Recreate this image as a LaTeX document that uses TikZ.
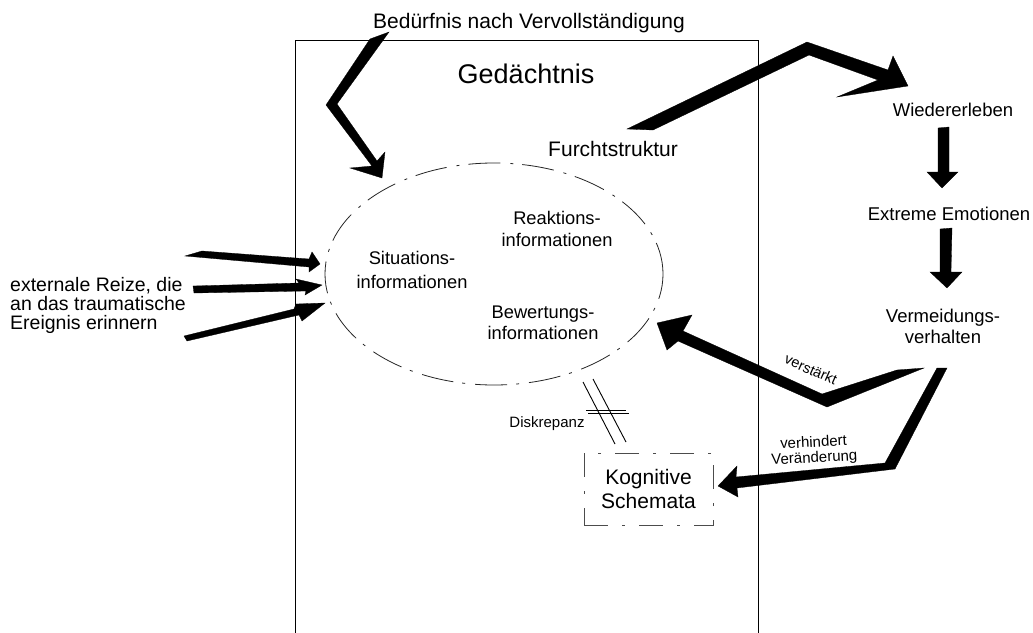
\documentclass[tikz,border=0pt]{standalone}
\usepackage{fontspec}
\setmainfont{Liberation Sans}
\usetikzlibrary{shapes.geometric}
\begin{document}
\begin{tikzpicture}[x=1pt,y=-1pt,
  txt/.style={inner sep=0pt, align=center},
  fat/.style={fill=black, draw=black, line width=0.3pt, line join=miter},
  thin/.style={draw=black, line width=0.9pt},
  elldash/.style={dash pattern=on 32pt off 9pt on 3pt off 10pt},
  boxdash/.style={dash pattern=on 24pt off 14pt on 3pt off 14pt}]
\useasboundingbox (0,0) rectangle (1033,632);
\fill[white] (0,0) rectangle (1033,632);

% memory frame
\draw[thin] (295,640) -- (295,40) -- (758.5,40) -- (758.5,640);

% texts
\node[txt, font=\fontsize{27}{30}\selectfont] (ged) at (526,74) {Gedächtnis};
\node[txt, font=\fontsize{21}{24}\selectfont] (bed) at (529,23) {Bedürfnis nach Vervollständigung};
\node[txt, font=\fontsize{21}{24}\selectfont] (furcht) at (613,149) {Furchtstruktur};

% fear structure ellipse
\node[ellipse, draw=black!85, line width=0.8pt, elldash, minimum width=338pt, minimum height=222pt, inner sep=0pt] (ell) at (494,274) {};
\node[txt, font=\fontsize{18.3}{24}\selectfont] (sit) at (412,270) {Situations-\\informationen};
\node[txt, font=\fontsize{18.3}{22}\selectfont] (rea) at (557,229) {Reaktions-\\informationen};
\node[txt, font=\fontsize{18.3}{20.5}\selectfont] (bew) at (543,323) {Bewertungs-\\informationen};

% right column
\node[txt, font=\fontsize{18.5}{21}\selectfont] (wie) at (953,110) {Wiedererleben};
\node[txt, font=\fontsize{18.5}{21}\selectfont] (ext) at (949,214) {Extreme Emotionen};
\node[txt, font=\fontsize{18.5}{21}\selectfont] (ver) at (943,326) {Vermeidungs-\\verhalten};

% left text
\node[txt, align=left, anchor=west, font=\fontsize{19.5}{19}\selectfont] (ext2) at (10,305) {externale Reize, die\\an das traumatische\\Ereignis erinnern};

% cognitive schemata
\node[txt, draw=black!70, line width=0.8pt, boxdash, minimum width=129pt, minimum height=72pt, font=\fontsize{21}{24}\selectfont] (kog) at (648.5,489) {Kognitive\\Schemata};

% discrepancy
\node[txt, font=\fontsize{15}{17}\selectfont] (dis) at (547,424) {Diskrepanz};
\coordinate (d1a) at (583,382); \coordinate (d1b) at (615,444);
\coordinate (d2a) at (593,379); \coordinate (d2b) at (626,442);
\coordinate (h1a) at (586,410.5); \coordinate (h1b) at (626,410.5);
\coordinate (h2a) at (588,413.5); \coordinate (h2b) at (629,413.5);
\draw[line width=0.9pt] (d1a) -- (d1b);
\draw[line width=0.9pt] (d2a) -- (d2b);
\draw[line width=0.9pt] (h1a) -- (h1b);
\draw[line width=0.9pt] (h2a) -- (h2b);

% arrow labels
\node[txt, rotate=-24, font=\fontsize{14.5}{16}\selectfont] (lv) at (811,369.5) {verstärkt};
\node[txt, rotate=3, font=\fontsize{15}{15.5}\selectfont] (lh) at (814,451) {verhindert\\Veränderung};

% Beduerfnis -> ellipse
\path[fat] (370,39) -- (389,32) -- (337,104) -- (377,161) -- (385,152) -- (382,178)
  -- (350,168) -- (372,166) -- (326,105) -- cycle;

% Furchtstruktur -> Wiedererleben
\path[fat] (627,129) -- (807,42) -- (888,70) -- (893,56) -- (908,86) -- (837,97)
  -- (878,80) -- (809,55) -- (653,130) -- cycle;

% Wiedererleben -> Extreme Emotionen
\path[fat] (938,128) -- (949,127) -- (949,172) -- (958,172) -- (942,188) -- (927,172) -- (938,172) -- cycle;
% Extreme Emotionen -> Vermeidungsverhalten
\path[fat] (940,229) -- (952,228) -- (951,272) -- (962,272) -- (947,288) -- (930,272) -- (940,272) -- cycle;

% verstaerkt
\path[fat] (924,368) -- (897,370) -- (822,394) -- (683,331) -- (692,315) -- (657,323)
  -- (667,350) -- (678,341) -- (827,407) -- cycle;

% verhindert Veraenderung
\path[fat] (937,368) -- (885,463) -- (736,477) -- (737,466) -- (718,486) -- (738,497)
  -- (737,488) -- (895,469) -- (947,368) -- cycle;

% external stimuli arrows
\path[fat] (185,256) -- (202,251) -- (309,259) -- (312,252) -- (320,264) -- (309,272) -- (309,267) -- cycle;
\path[fat] (193,286) -- (299,283) -- (296,279) -- (322,285) -- (305,295) -- (306,291) -- (194,293) -- cycle;
\path[fat] (184,336) -- (294,309) -- (296,304) -- (325,303) -- (302,321) -- (299,315) -- (187,341) -- cycle;
\end{tikzpicture}
\end{document}
